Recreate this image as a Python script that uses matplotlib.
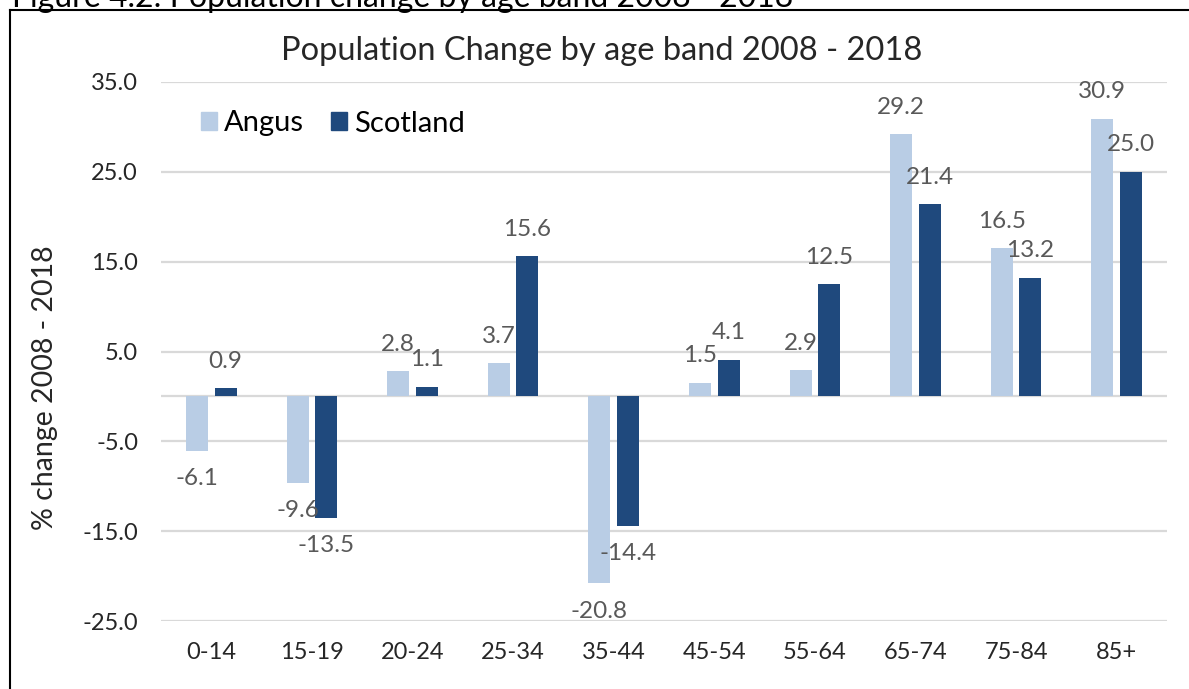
import matplotlib
matplotlib.use("Agg")
import matplotlib.pyplot as plt
from matplotlib.lines import Line2D
from matplotlib.patches import Patch
import numpy as np

plt.rcParams['font.family'] = ['Lato', 'DejaVu Sans']

age_bands = ["0-14", "15-19", "20-24", "25-34", "35-44", "45-54", "55-64", "65-74", "75-84", "85+"]
angus = [-6.1, -9.6, 2.8, 3.7, -20.8, 1.5, 2.9, 29.2, 16.5, 30.9]
scotland = [0.9, -13.5, 1.1, 15.6, -14.4, 4.1, 12.5, 21.4, 13.2, 25.0]
y_ticks = [-25, -15, -5, 5, 15, 25, 35]

c_angus = "#B9CDE5"
c_scot = "#1F497D"
c_grid = "#D9D9D9"
c_lab = "#595959"

W, H = 1189, 689
fig = plt.figure(figsize=(W / 100, H / 100), dpi=100)

# axes placed to match the plot area of the reference
ax = fig.add_axes([161 / W, 1 - 621 / H, (1167 - 161) / W, (621 - 82) / H])

x = np.arange(len(age_bands))
bw = 0.22
off = 0.142
ax.bar(x - off, angus, bw, color=c_angus, zorder=3)
ax.bar(x + off, scotland, bw, color=c_scot, zorder=3)

# value labels, outside end
for xs, vals in ((x - off, angus), (x + off, scotland)):
    for xi, v in zip(xs, vals):
        dy = 19.5 if v >= 0 else -20
        ax.annotate("%.1f" % v, (xi, v), xytext=(0, dy), textcoords="offset points",
                    ha="center", va="center", color=c_lab, fontsize=17.5, zorder=4)

ax.set_xlim(-0.5, len(age_bands) - 0.5)
ax.set_ylim(-25, 35)
ax.set_yticks(y_ticks)
ax.set_yticklabels(["%.1f" % t for t in y_ticks])
ax.set_xticks(x)
ax.set_xticklabels(age_bands)
ax.tick_params(axis="y", length=0, pad=16.5, labelsize=17, colors="#262626")
ax.tick_params(axis="x", length=0, pad=15, labelsize=17, colors="#262626")
ax.yaxis.grid(True, color=c_grid, linewidth=1.6, zorder=0)
ax.axhline(0, color=c_grid, linewidth=1.6, zorder=2)
for s in ax.spines.values():
    s.set_visible(False)

fig.text(45 / W, 1 - 388 / H, "% change 2008 - 2018", rotation=90,
         ha="center", va="center", fontsize=20.5, color="#262626")

fig.text(602 / W, 1 - 60 / H, "Population Change by age band 2008 - 2018",
         ha="center", va="baseline", fontsize=23.5, color="#262626")

# caption cut off at top edge, as in the source image
fig.text(12 / W, 1 - 7 / H, "Figure 4.2: Population change by age band 2008 - 2018",
         ha="left", va="baseline", fontsize=23, color="black")

handles = [Patch(color=c_angus, label="Angus"), Patch(color=c_scot, label="Scotland")]
fig.legend(handles=handles, loc="center left", bbox_to_anchor=(201 / W, 1 - 123.5 / H),
           ncol=2, frameon=False, fontsize=21, handlelength=0.55, handleheight=0.55,
           handletextpad=0.25, columnspacing=0.9, borderpad=0, borderaxespad=0)

# border box (only left and top visible in the crop)
fig.add_artist(Line2D([10 / W, 10 / W], [0, 1 - 10 / H], color="black", linewidth=1.5,
                      transform=fig.transFigure))
fig.add_artist(Line2D([10 / W, 1], [1 - 10 / H, 1 - 10 / H], color="black", linewidth=1.5,
                      transform=fig.transFigure))

fig.savefig("out.png", dpi=100)
